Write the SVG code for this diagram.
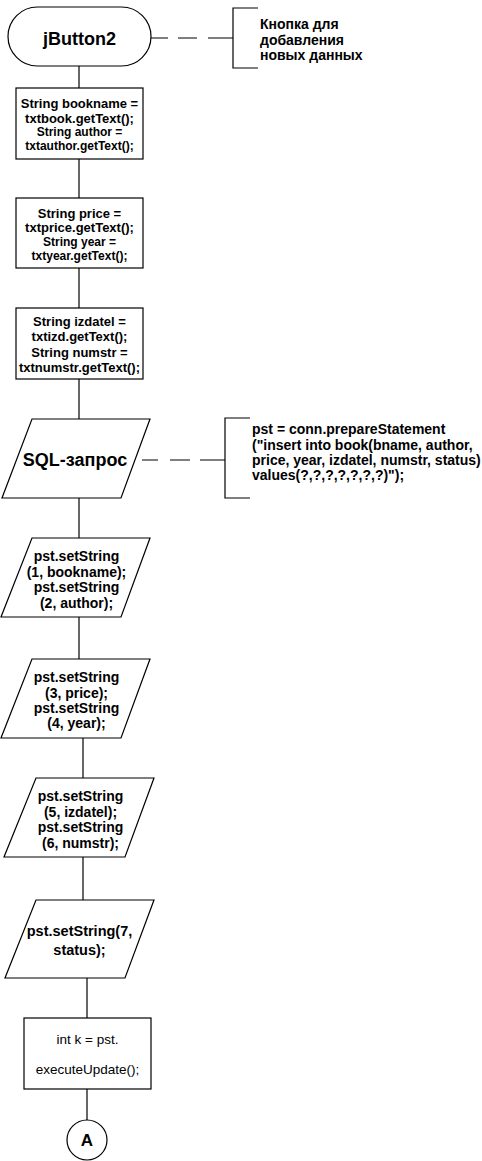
<svg xmlns="http://www.w3.org/2000/svg" width="482" height="1161" viewBox="0 0 482 1161">
<style>
.s{fill:#fff;stroke:#000;stroke-width:1.2}
.l{fill:none;stroke:#000;stroke-width:1.2}
.t{font-family:"Liberation Sans",Arial,sans-serif;font-weight:bold;fill:#000;text-anchor:middle}
.n{font-family:"Liberation Sans",Arial,sans-serif;font-weight:normal;fill:#000;text-anchor:middle}
.a{font-family:"Liberation Sans",Arial,sans-serif;font-weight:bold;fill:#000;text-anchor:start}
</style>
<rect width="482" height="1161" fill="#fff"/>
<g id="connectors">
<line class="l" x1="79" y1="66" x2="79" y2="88"/>
<line class="l" x1="79" y1="159" x2="79" y2="198"/>
<line class="l" x1="79" y1="268" x2="79" y2="308"/>
<line class="l" x1="79" y1="379" x2="79" y2="419"/>
<line class="l" x1="79" y1="498" x2="79" y2="538"/>
<line class="l" x1="79" y1="617" x2="79" y2="659"/>
<line class="l" x1="83" y1="738" x2="83" y2="778"/>
<line class="l" x1="83" y1="857" x2="83" y2="900"/>
<line class="l" x1="87" y1="978" x2="87" y2="1018"/>
<line class="l" x1="87" y1="1089" x2="87" y2="1120"/>
<line class="l" x1="151" y1="38" x2="233" y2="38" stroke-dasharray="17,10,19,11,25"/>
<line class="l" x1="142" y1="460" x2="225" y2="460" stroke-dasharray="16,12,20,10,25"/>
</g>
<g id="start">
<rect class="s" x="8" y="7" width="143" height="59" rx="29.5"/>
<text class="t" x="79.5" y="44.5" font-size="18">jButton2</text>
</g>
<g id="note1">
<path class="l" d="M258,8 H233 V68 H258"/>
<text class="a" font-size="14" x="260"><tspan x="260" y="29">Кнопка для</tspan><tspan x="260" y="44.5">добавления</tspan><tspan x="260" y="60">новых данных</tspan></text>
</g>
<g id="box1">
<rect class="s" x="16" y="88" width="127" height="71"/>
<text class="t" font-size="13" x="79.5" y="107.5">String bookname =</text>
<text class="t" font-size="13" x="79.5" y="122.5">txtbook.getText();</text>
<text class="t" font-size="12" x="79.5" y="136">String author =</text>
<text class="t" font-size="12" x="79.5" y="150">txtauthor.getText();</text>
</g>
<g id="box2">
<rect class="s" x="16" y="198" width="127" height="70"/>
<text class="t" font-size="13" x="79.5" y="217.5">String price =</text>
<text class="t" font-size="13" x="79.5" y="231.5">txtprice.getText();</text>
<text class="t" font-size="12" x="79.5" y="246">String year =</text>
<text class="t" font-size="12" x="79.5" y="260">txtyear.getText();</text>
</g>
<g id="box3">
<rect class="s" x="16" y="308" width="127" height="71"/>
<text class="t" font-size="13" x="79.5" y="325.5">String izdatel =</text>
<text class="t" font-size="13" x="79.5" y="340.5">txtizd.getText();</text>
<text class="t" font-size="13" x="79.5" y="356.5">String numstr =</text>
<text class="t" font-size="13" x="79.5" y="371.5">txtnumstr.getText();</text>
</g>
<g id="sql">
<polygon class="s" points="32,419 150,419 121,498 2,498"/>
<text class="t" font-size="18" x="75" y="466">SQL-запрос</text>
</g>
<g id="note2">
<path class="l" d="M250,418 H225 V498 H250"/>
<text class="a" font-size="14"><tspan x="252" y="434">pst = conn.prepareStatement</tspan><tspan x="252" y="450">("insert into book(bname, author,</tspan><tspan x="252" y="465">price, year, izdatel, numstr, status)</tspan><tspan x="252" y="480">values(?,?,?,?,?,?,?)");</tspan></text>
</g>
<g id="para2">
<polygon class="s" points="32,538 150,538 121,617 1,617"/>
<text class="t" font-size="14" x="76.5" y="561">pst.setString</text>
<text class="t" font-size="14" x="76.5" y="577">(1, bookname);</text>
<text class="t" font-size="14" x="76.5" y="592">pst.setString</text>
<text class="t" font-size="14" x="76.5" y="608">(2, author);</text>
</g>
<g id="para3">
<polygon class="s" points="32,659 150,659 121,738 1,738"/>
<text class="t" font-size="14" x="76.5" y="682">pst.setString</text>
<text class="t" font-size="14" x="76.5" y="698">(3, price);</text>
<text class="t" font-size="14" x="76.5" y="713">pst.setString</text>
<text class="t" font-size="14" x="76.5" y="728">(4, year);</text>
</g>
<g id="para4">
<polygon class="s" points="36,778 154,778 125,857 4,857"/>
<text class="t" font-size="14" x="80.5" y="801">pst.setString</text>
<text class="t" font-size="14" x="80.5" y="817">(5, izdatel);</text>
<text class="t" font-size="14" x="80.5" y="832">pst.setString</text>
<text class="t" font-size="14" x="80.5" y="848">(6, numstr);</text>
</g>
<g id="para5">
<polygon class="s" points="36,900 154,900 125,978 5,978"/>
<text class="t" font-size="14.5" x="79.5" y="936">pst.setString(7,</text>
<text class="t" font-size="14.5" x="79.5" y="955">status);</text>
</g>
<g id="box4">
<rect class="s" x="24" y="1018" width="127" height="71"/>
<text class="n" font-size="13.5" x="87.5" y="1043.5">int k = pst.</text>
<text class="n" font-size="13.5" x="87.5" y="1073.5">executeUpdate();</text>
</g>
<g id="connectorA">
<circle class="s" cx="87" cy="1140" r="20"/>
<text class="t" font-size="17" x="87" y="1146">A</text>
</g>
</svg>
